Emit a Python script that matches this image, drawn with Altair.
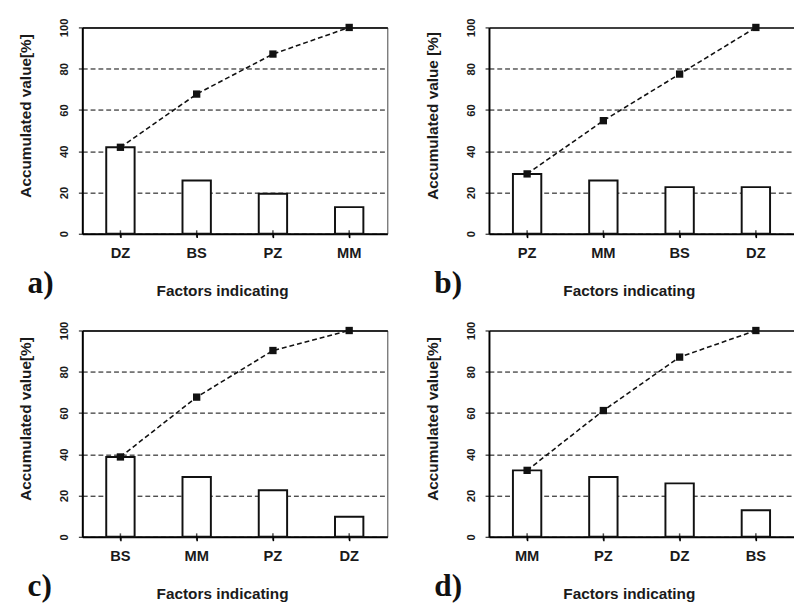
import altair as alt
import pandas as pd

# ---- data ----
cats_a = ["DZ", "BS", "PZ", "MM"]
vals_a = [41.9, 25.8, 19.4, 12.9]
cum_a = [41.9, 67.7, 87.1, 100.0]

cats_b = ["PZ", "MM", "BS", "DZ"]
vals_b = [29.0, 25.8, 22.6, 22.6]
cum_b = [29.0, 54.8, 77.4, 100.0]

cats_c = ["BS", "MM", "PZ", "DZ"]
vals_c = [38.7, 29.0, 22.6, 9.7]
cum_c = [38.7, 67.7, 90.3, 100.0]

cats_d = ["MM", "PZ", "DZ", "BS"]
vals_d = [32.2, 29.0, 25.9, 12.9]
cum_d = [32.2, 61.2, 87.1, 100.0]

y_ticks = [0, 20, 40, 60, 80, 100]
x_title = "Factors indicating"

SANS = "Liberation Sans"
SERIF = "Liberation Serif"
TXT = "#1a1a1a"


def panel(cats, vals, cums, ytitle, letter, width, right_border):
    df = pd.DataFrame({"factor": cats, "value": vals, "cum": cums, "zero": [0] * len(cats)})
    x = alt.X(
        "factor:N",
        sort=cats,
        scale=alt.Scale(range=[0, 312], paddingInner=0.628, paddingOuter=0.314),
        axis=alt.Axis(
            title=x_title,
            labelAngle=0,
            labelFont=SANS, labelFontWeight="bold", labelFontSize=15, labelColor=TXT,
            labelPadding=8,
            tickSize=4, tickColor="#000", tickWidth=1.5,
            domainColor="#000", domainWidth=2,
            titleFont=SANS, titleFontWeight="bold", titleFontSize=15.7, titleColor=TXT,
            titleX=143, titleY=51, titleAlign="center", titleBaseline="top",
            grid=False,
        ),
    )
    yscale = alt.Scale(domain=[0, 100])
    yaxis = alt.Axis(
        title=ytitle,
        values=y_ticks,
        labelAngle=270, labelAlign="center", labelBaseline="bottom",
        labelFont=SANS, labelFontWeight="bold", labelFontSize=11.5, labelColor=TXT,
        labelPadding=9,
        tickSize=4, tickColor="#000", tickWidth=1,
        domainColor="#000", domainWidth=2,
        grid=True, gridColor="#000",
        gridWidth={"condition": {"test": "datum.value === 100", "value": 1.5}, "value": 1},
        gridDash={"condition": {"test": "datum.value === 100", "value": []}, "value": [5, 3]},
        titleFont=SANS, titleFontWeight="bold", titleFontSize=15.7, titleColor=TXT,
        titleAngle=270, titleAlign="center", titleBaseline="bottom",
        titleX=-50, titleY=90,
    )
    y_bar = alt.Y("value:Q", scale=yscale, axis=yaxis, title=ytitle)
    y_cum = alt.Y("cum:Q", scale=yscale, axis=yaxis, title=ytitle)
    y_zero = alt.Y("zero:Q", scale=yscale, axis=yaxis, title=ytitle)
    bars = alt.Chart(df).mark_bar(fill="white", stroke="#111", strokeWidth=2).encode(
        x=x, y=y_bar
    )
    ticks = alt.Chart(df).mark_tick(orient="vertical", color="#000", size=7, thickness=1.5).encode(
        x=x, y=y_zero
    )
    line = alt.Chart(df).mark_line(color="#111", strokeWidth=1.6, strokeDash=[5, 3]).encode(
        x=x, y=y_cum
    )
    pts = alt.Chart(df).mark_square(color="#111", size=56, opacity=1).encode(
        x=x, y=y_cum
    )
    lab = alt.Chart(pd.DataFrame({"t": [letter]})).mark_text(
        font=SERIF, fontWeight="bold", fontSize=32, align="left", baseline="alphabetic", color="#111"
    ).encode(x=alt.value(-56), y=alt.value(272), text="t:N")
    view = alt.ViewBackground(stroke="#444", strokeWidth=1) if right_border else alt.ViewBackground(strokeOpacity=0)
    return alt.layer(bars, ticks, line, pts, lab).properties(width=width, height=211, view=view)


pa = panel(cats_a, vals_a, cum_a, "Accumulated value[%]", "a)", 312, True)
pb = panel(cats_b, vals_b, cum_b, "Accumulated value [%]", "b)", 303, False)
pc = panel(cats_c, vals_c, cum_c, "Accumulated value[%]", "c)", 312, True)
pd_ = panel(cats_d, vals_d, cum_d, "Accumulated value[%]", "d)", 303, False)

chart = alt.vconcat(
    alt.hconcat(pa, pb, spacing=37),
    alt.hconcat(pc, pd_, spacing=37),
    spacing=20,
).properties(
    padding={"left": 9, "top": 2, "right": 0, "bottom": 0},
    background="white",
)

chart.save("out.html", embed_options={"renderer": "svg", "actions": False})
